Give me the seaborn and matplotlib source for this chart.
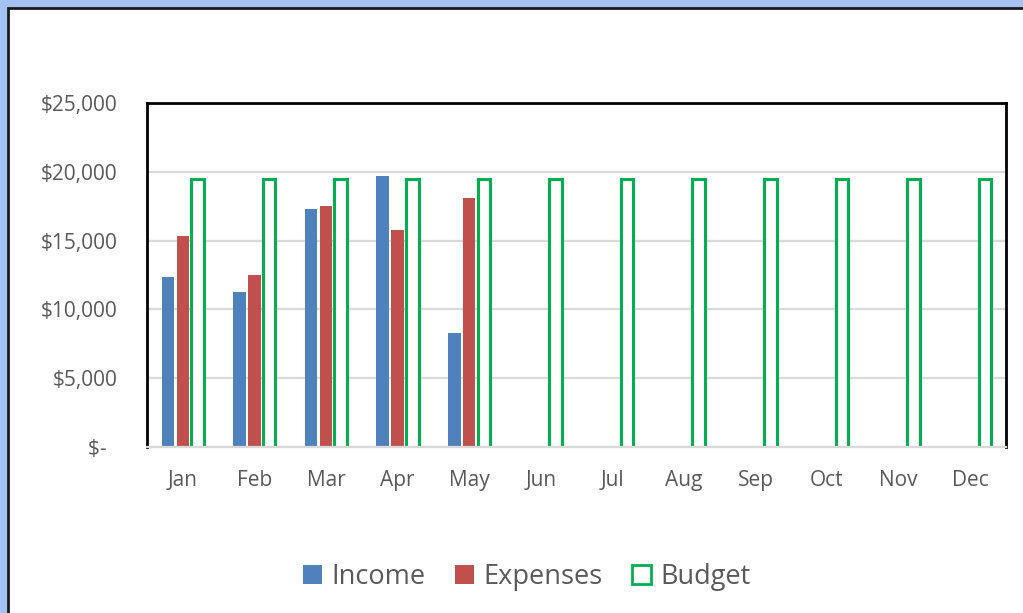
import pandas as pd
import seaborn as sns
from matplotlib import pyplot as plt
from matplotlib.patches import Patch, Rectangle

months = ["Jan", "Feb", "Mar", "Apr", "May", "Jun",
          "Jul", "Aug", "Sep", "Oct", "Nov", "Dec"]
income = [12350, 11300, 17300, 19700, 8250]
expenses = [15350, 12500, 17500, 15800, 18100]
budget = [19500] * 12

series = ["Income", "Expenses", "Budget"]
colors = {"Income": "#4F81BD", "Expenses": "#C0504D", "Budget": "#00B050"}

rows = []
for name, vals in zip(series, [income, expenses, budget]):
    for m, v in zip(months, vals):
        rows.append({"month": m, "series": name, "value": v})
df = pd.DataFrame(rows)

sns.set_style("white")
plt.rcParams["font.family"] = ["Open Sans", "DejaVu Sans"]
text_gray = "#595959"

fig = plt.figure(figsize=(10.23, 6.13), dpi=100)
fig.patch.set_facecolor("#A4C2F4")
# white chart area with a dark edge along top and left
fig.patches.append(Rectangle((8 / 1023, -0.1), 1.1, (613 - 8) / 613 + 0.1,
                             transform=fig.transFigure, facecolor="white",
                             edgecolor="#1a1a1a", linewidth=2, zorder=-10))

ax = fig.add_axes([147 / 1023, 1 - 447 / 613, (1006 - 147) / 1023, (447 - 103) / 613])
ax.set_zorder(5)
ax.set_facecolor("none")

sns.barplot(data=df, x="month", y="value", hue="series", order=months,
            hue_order=series, palette=colors, width=0.62, gap=0.15,
            saturation=1, linewidth=0, legend=False, ax=ax)

for bar in ax.containers[2]:
    bar.set_facecolor("white")
    bar.set_edgecolor("#00B050")
    bar.set_linewidth(2.2)

ax.set_xlim(-0.5, 11.5)
ax.set_ylim(0, 25000)
ax.set_yticks(range(0, 25001, 5000))
ax.set_yticklabels(["$-  "] + [f"${v:,}" for v in range(5000, 25001, 5000)])
ax.yaxis.grid(True, color="#D9D9D9", linewidth=1.6)
ax.set_axisbelow(True)
ax.set_xlabel("")
ax.set_ylabel("")
ax.tick_params(axis="both", length=0, labelsize=15, labelcolor=text_gray)
ax.tick_params(axis="x", pad=16.5)
ax.tick_params(axis="y", pad=21)

for side in ["left", "top", "right"]:
    ax.spines[side].set_visible(True)
    ax.spines[side].set_color("black")
    ax.spines[side].set_linewidth(2)
ax.spines["bottom"].set_color("#D9D9D9")
ax.spines["bottom"].set_linewidth(1.6)

handles = [Patch(facecolor=colors["Income"], edgecolor="none", label="Income"),
           Patch(facecolor=colors["Expenses"], edgecolor="none", label="Expenses"),
           Patch(facecolor="white", edgecolor=colors["Budget"], linewidth=2, label="Budget")]
leg = fig.legend(handles=handles, loc="center", bbox_to_anchor=(0.515, 1 - 577 / 613),
                 ncol=3, frameon=False, fontsize=19.5, handlelength=0.7,
                 handleheight=0.7, handletextpad=0.35, columnspacing=1.1)
leg.set_zorder(6)
for t in leg.get_texts():
    t.set_color(text_gray)

fig.savefig("out.png", dpi=100, facecolor=fig.get_facecolor())
